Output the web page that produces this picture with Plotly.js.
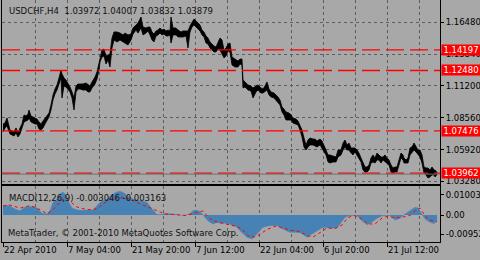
<!DOCTYPE html>
<html>
<head>
<meta charset="utf-8">
<script src="https://cdn.plot.ly/plotly-3.0.1.min.js"></script>
<style>html,body{margin:0;padding:0;background:#A8A8A8;}#chart{width:480px;height:260px;}</style>
</head>
<body>
<div id="chart"></div>
<script>
// ---- price bars (H4), bar index from the first time label ----
const barIdx = [0,2,4,6,7,9,11,13,15,17,19,21,23,25,26,28,30,32,34,36,38,40,42,44,46,48,50,52,54,56,58,59,61,63,65,67,69,71,73,75,77,80,83,85,87,89,92,94,96,97,99,101,103,105,107,109,111,114,117,120,122,125,128,130,133,135,138,140,143,145,147,149,151,153,155,157,159,161,163,165,167,168,170,173,175,178,180,183,185,187,189,191,193,195,197,199,201,203,205,207,209,211,213,215,217,219,221,223,225,227,229,232,235,237,239,240,242,245,248,250,253,255,258,260,262,264,266,268,271,273,275,277,279,281,283,286,288,290,293,295,297,299,301,303,305,307,310,312,314,317,319,321,323,325,327,330,333,335,338,340,342,344,346,348,350,352,354,356,358,360,362,364,366,368,370,372,374,376,378,380,382,384,386,388,390,392,394,396,398,400,401,403,405,407,409,411,413,415,417,419,421,423,425,427,429,431,432,434];
const barHigh = [1.0804,1.0812,1.0854,1.0796,1.0754,1.0746,1.0738,1.0771,1.0729,1.0771,1.0804,1.0879,1.0870,1.0887,1.0920,1.0870,1.0862,1.0854,1.0845,1.0821,1.0804,1.0829,1.0854,1.0870,1.0895,1.0962,1.1045,1.1094,1.1128,1.1186,1.1252,1.1219,1.1186,1.1169,1.1144,1.1111,1.1070,1.1020,1.1119,1.1136,1.1136,1.1136,1.1144,1.1128,1.1119,1.1153,1.1194,1.1236,1.1319,1.1360,1.1418,1.1426,1.1368,1.1377,1.1385,1.1518,1.1568,1.1568,1.1559,1.1543,1.1559,1.1543,1.1551,1.1601,1.1626,1.1642,1.1692,1.1609,1.1601,1.1609,1.1609,1.1568,1.1551,1.1576,1.1584,1.1601,1.1584,1.1592,1.1576,1.1584,1.1576,1.1692,1.1601,1.1601,1.1584,1.1568,1.1576,1.1576,1.1576,1.1617,1.1651,1.1675,1.1659,1.1642,1.1626,1.1584,1.1568,1.1534,1.1518,1.1485,1.1468,1.1451,1.1443,1.1476,1.1518,1.1501,1.1418,1.1435,1.1468,1.1476,1.1360,1.1343,1.1327,1.1343,1.1343,1.1169,1.1153,1.1128,1.1119,1.1103,1.1119,1.1128,1.1103,1.1094,1.1119,1.1153,1.1094,1.1070,1.1061,1.1045,1.1028,1.1003,1.0945,1.0928,1.0904,1.0895,1.0879,1.0854,1.0845,1.0829,1.0796,1.0754,1.0688,1.0630,1.0671,1.0688,1.0679,1.0679,1.0663,1.0679,1.0663,1.0630,1.0588,1.0547,1.0547,1.0538,1.0530,1.0588,1.0588,1.0646,1.0671,1.0630,1.0646,1.0605,1.0605,1.0605,1.0588,1.0563,1.0522,1.0480,1.0447,1.0447,1.0464,1.0522,1.0547,1.0522,1.0563,1.0547,1.0530,1.0530,1.0547,1.0522,1.0505,1.0464,1.0439,1.0447,1.0447,1.0505,1.0563,1.0547,1.0522,1.0505,1.0522,1.0605,1.0613,1.0646,1.0613,1.0588,1.0588,1.0547,1.0447,1.0439,1.0439,1.0422,1.0447,1.0422,1.0422,1.0401];
const barLow = [1.0738,1.0771,1.0787,1.0746,1.0721,1.0713,1.0704,1.0729,1.0696,1.0721,1.0771,1.0821,1.0829,1.0837,1.0854,1.0821,1.0812,1.0804,1.0804,1.0762,1.0754,1.0771,1.0804,1.0829,1.0862,1.0920,1.1003,1.1053,1.1086,1.1136,1.1186,1.1020,1.1119,1.1111,1.1086,1.1070,1.1020,1.0920,1.1070,1.1094,1.1094,1.1086,1.1086,1.1070,1.1070,1.1103,1.1136,1.1177,1.1252,1.1319,1.1360,1.1368,1.1302,1.1335,1.1277,1.1435,1.1501,1.1485,1.1501,1.1485,1.1476,1.1460,1.1501,1.1551,1.1584,1.1559,1.1601,1.1543,1.1559,1.1576,1.1543,1.1501,1.1485,1.1534,1.1543,1.1559,1.1543,1.1551,1.1534,1.1534,1.1543,1.1476,1.1543,1.1543,1.1526,1.1526,1.1526,1.1534,1.1435,1.1568,1.1609,1.1626,1.1609,1.1592,1.1576,1.1543,1.1526,1.1476,1.1468,1.1435,1.1418,1.1402,1.1402,1.1426,1.1418,1.1377,1.1352,1.1368,1.1410,1.1402,1.1294,1.1277,1.1277,1.1302,1.1294,1.1103,1.1111,1.1086,1.1078,1.1020,1.1070,1.1086,1.1061,1.1061,1.1070,1.1086,1.1045,1.1028,1.1020,1.1003,1.0987,1.0962,1.0904,1.0879,1.0837,1.0837,1.0837,1.0812,1.0804,1.0796,1.0754,1.0696,1.0613,1.0588,1.0613,1.0630,1.0630,1.0621,1.0613,1.0630,1.0605,1.0572,1.0547,1.0489,1.0480,1.0489,1.0489,1.0530,1.0547,1.0588,1.0613,1.0588,1.0588,1.0563,1.0547,1.0572,1.0547,1.0522,1.0489,1.0422,1.0406,1.0406,1.0422,1.0480,1.0489,1.0480,1.0505,1.0505,1.0480,1.0505,1.0489,1.0480,1.0464,1.0406,1.0397,1.0406,1.0406,1.0464,1.0522,1.0505,1.0480,1.0480,1.0480,1.0547,1.0572,1.0588,1.0572,1.0547,1.0530,1.0480,1.0397,1.0381,1.0356,1.0364,1.0381,1.0381,1.0364,1.0383];

// ---- horizontal levels ----
const levelPrices = [1.14197, 1.12480, 1.07476, 1.03962];
const bidPrice = 1.03879;
const headerText = "USDCHF,H4  1.03972 1.04007 1.03832 1.03879";

// ---- price axis ticks ----
const priceTicks = [1.16480, 1.13840, 1.11200, 1.08560, 1.05920, 1.03280];
const priceTickText = ["1.16480","1.13840","1.11200","1.08560","1.05920","1.03280"];

// ---- time axis ----
const timeTickIdx = [0, 64, 128, 192, 256, 320, 384];
const timeTickText = ["22 Apr 2010","7 May 04:00","21 May 20:00","7 Jun 12:00","22 Jun 04:00","6 Jul 20:00","21 Jul 12:00"];

// ---- MACD(12,26,9) ----
const macdIdx = [0,3,7,12,17,22,27,30,34,39,44,47,50,54,57,60,63,65,69,74,79,84,90,94,97,104,110,114,117,121,124,130,137,144,149,154,157,162,167,172,177,182,187,190,194,197,200,205,210,214,219,224,230,234,237,241,244,249,254,257,260,267,274,280,287,292,297,301,304,309,314,320,327,334,337,342,347,354,359,364,369,374,380,387,392,397,400,404,409,412,415,417,422,427,431,434];
const macdMain = [0.0044,0.0049,0.0044,0.0029,0.0021,0.0039,0.0041,0.0041,0.0034,0.0008,0.0005,0.0021,0.0062,0.0078,0.0103,0.0113,0.0098,0.0070,0.0034,0.0025,0.0023,0.0023,0.0025,0.0046,0.0062,0.0078,0.0103,0.0113,0.0116,0.0108,0.0095,0.0078,0.0070,0.0062,0.0029,0.0002,0.0001,0.0007,0.0006,0.0003,0.0000,-0.0002,0.0007,0.0021,0.0023,0.0017,0.0000,-0.0029,-0.0044,-0.0037,-0.0042,-0.0039,-0.0051,-0.0059,-0.0077,-0.0096,-0.0109,-0.0118,-0.0093,-0.0076,-0.0060,-0.0052,-0.0052,-0.0069,-0.0085,-0.0085,-0.0087,-0.0098,-0.0109,-0.0093,-0.0077,-0.0060,-0.0064,-0.0064,-0.0044,-0.0011,-0.0003,-0.0002,-0.0028,-0.0048,-0.0034,-0.0016,-0.0003,-0.0003,-0.0025,-0.0016,-0.0002,0.0010,0.0025,0.0038,0.0034,0.0018,-0.0020,-0.0036,-0.0042,-0.0030];
const sigIdx = [0,7,17,27,34,39,44,49,54,59,64,69,74,82,89,95,100,107,114,122,129,135,142,149,155,162,172,182,189,196,200,205,210,217,224,232,239,245,252,259,265,273,280,287,297,304,310,317,324,332,339,345,352,359,365,372,379,385,392,400,407,412,417,422,427,434];
const macdSignal = [0.0044,0.0049,0.0034,0.0046,0.0034,0.0021,0.0007,0.0021,0.0049,0.0074,0.0078,0.0059,0.0039,0.0029,0.0025,0.0034,0.0054,0.0076,0.0083,0.0086,0.0074,0.0059,0.0044,0.0032,0.0020,0.0005,0.0002,-0.0003,0.0005,0.0015,0.0020,-0.0010,-0.0028,-0.0037,-0.0044,-0.0054,-0.0069,-0.0101,-0.0108,-0.0088,-0.0069,-0.0054,-0.0064,-0.0074,-0.0081,-0.0101,-0.0108,-0.0088,-0.0064,-0.0066,-0.0049,-0.0012,-0.0003,-0.0020,-0.0044,-0.0044,-0.0015,-0.0005,-0.0015,-0.0010,-0.0002,0.0021,0.0034,-0.0003,-0.0025,-0.0032];
const macdTicks = [0.010032, 0, -0.00952];
const macdTickText = ["0.010032","0.00","-0.00952"];
const macdLabel = "MACD(12,26,9) -0.003046 -0.003163";
const copyright = "MetaTrader, \u00a9 2001-2010 MetaQuotes Software Corp.";

const FONT = "DejaVu Sans";
const FS = 8.5;
const BG = "#A8A8A8";
const GRID = "#5E5E5E";

const traces = [
  {x: barIdx, y: barHigh, type: "scatter", mode: "lines", line: {color: "#000", width: 0.8}, xaxis: "x", yaxis: "y", hoverinfo: "skip"},
  {x: barIdx, y: barLow, type: "scatter", mode: "lines", line: {color: "#000", width: 0.8}, fill: "tonexty", fillcolor: "#000", xaxis: "x", yaxis: "y", hoverinfo: "skip"},
  {x: macdIdx, y: macdMain, type: "scatter", mode: "lines", line: {color: "#4682B4", width: 0.5}, fill: "tozeroy", fillcolor: "#4682B4", xaxis: "x2", yaxis: "y2", hoverinfo: "skip"},
  {x: sigIdx, y: macdSignal, type: "scatter", mode: "lines", line: {color: "#FF0000", width: 1, dash: "3px,3px"}, xaxis: "x2", yaxis: "y2", hoverinfo: "skip"}
];

const shapes = levelPrices.map(p => ({type: "line", xref: "paper", x0: 0, x1: 1, yref: "y", y0: p, y1: p, line: {color: "#FF0000", width: 1.3, dash: "18px,6px"}, layer: "above"}));
shapes.push({type: "line", xref: "paper", x0: 0, x1: 1, yref: "y", y0: bidPrice, y1: bidPrice, line: {color: "#707070", width: 1}, layer: "above"});

const annotations = levelPrices.map(p => ({xref: "paper", x: 1, xanchor: "left", xshift: 1, yref: "y", y: p, yanchor: "middle", text: p.toFixed(5), showarrow: false, bgcolor: "#FF0000", font: {family: FONT, size: FS, color: "#FFFFFF"}, width: 38, height: 10, borderpad: 0, align: "center"}));
annotations.push({xref: "paper", x: 0.012, xanchor: "left", yref: "paper", y: 1, yshift: -4, yanchor: "top", text: headerText.replace(/ /g, "&nbsp;"), showarrow: false, font: {family: FONT, size: FS, color: "#111"}});
annotations.push({xref: "paper", x: 0.012, xanchor: "left", yref: "paper", y: 0.231, yshift: -5, yanchor: "top", text: macdLabel, showarrow: false, font: {family: FONT, size: FS, color: "#111"}});
annotations.push({xref: "paper", x: 0.009, xanchor: "left", yref: "paper", y: 0, yshift: 2, yanchor: "bottom", text: copyright, showarrow: false, font: {family: FONT, size: FS, color: "#111"}});

const layout = {
  width: 480, height: 260,
  margin: {l: 2, r: 40, t: 0, b: 18},
  paper_bgcolor: BG, plot_bgcolor: BG,
  showlegend: false, hovermode: false,
  font: {family: FONT, size: FS, color: "#000"},
  xaxis: {domain: [0, 1], range: [-1, 437], anchor: "y", showticklabels: false, ticks: "",
          tickvals: timeTickIdx, showgrid: true, gridcolor: GRID, griddash: "3px,3px", gridwidth: 1,
          minor: {dtick: 32, tick0: 0, showgrid: true, gridcolor: GRID, griddash: "3px,3px", gridwidth: 1},
          showline: true, linecolor: "#000", linewidth: 1, mirror: false, zeroline: false, fixedrange: true},
  yaxis: {domain: [0.2397, 1], range: [1.03059, 1.18331], side: "right", anchor: "x",
          tickvals: priceTicks, ticktext: priceTickText, ticks: "outside", ticklen: 3, tickcolor: "#000",
          showgrid: true, gridcolor: GRID, griddash: "3px,3px", gridwidth: 1,
          showline: true, linecolor: "#000", linewidth: 1, mirror: true, zeroline: false, fixedrange: true},
  xaxis2: {domain: [0, 1], range: [-1, 437], anchor: "y2",
          tickvals: timeTickIdx, ticktext: timeTickText, ticks: "outside", ticklen: 4, tickcolor: "#000",
          ticklabelposition: "outside right", tickangle: 0, automargin: false, ticklabelstandoff: 0,
          showgrid: true, gridcolor: GRID, griddash: "3px,3px", gridwidth: 1,
          minor: {dtick: 32, tick0: 0, showgrid: true, gridcolor: GRID, griddash: "3px,3px", gridwidth: 1},
          showline: true, linecolor: "#000", linewidth: 1, mirror: true, zeroline: false, fixedrange: true},
  yaxis2: {domain: [0, 0.2314], range: [-0.01323, 0.01421], side: "right", anchor: "x2",
          tickvals: macdTicks, ticktext: macdTickText, ticks: "outside", ticklen: 3, tickcolor: "#000",
          showgrid: false, showline: true, linecolor: "#000", linewidth: 1, mirror: true, zeroline: false, fixedrange: true},
  shapes: shapes,
  annotations: annotations
};

Plotly.newPlot("chart", traces, layout, {displayModeBar: false, staticPlot: true});
</script>
</body>
</html>
